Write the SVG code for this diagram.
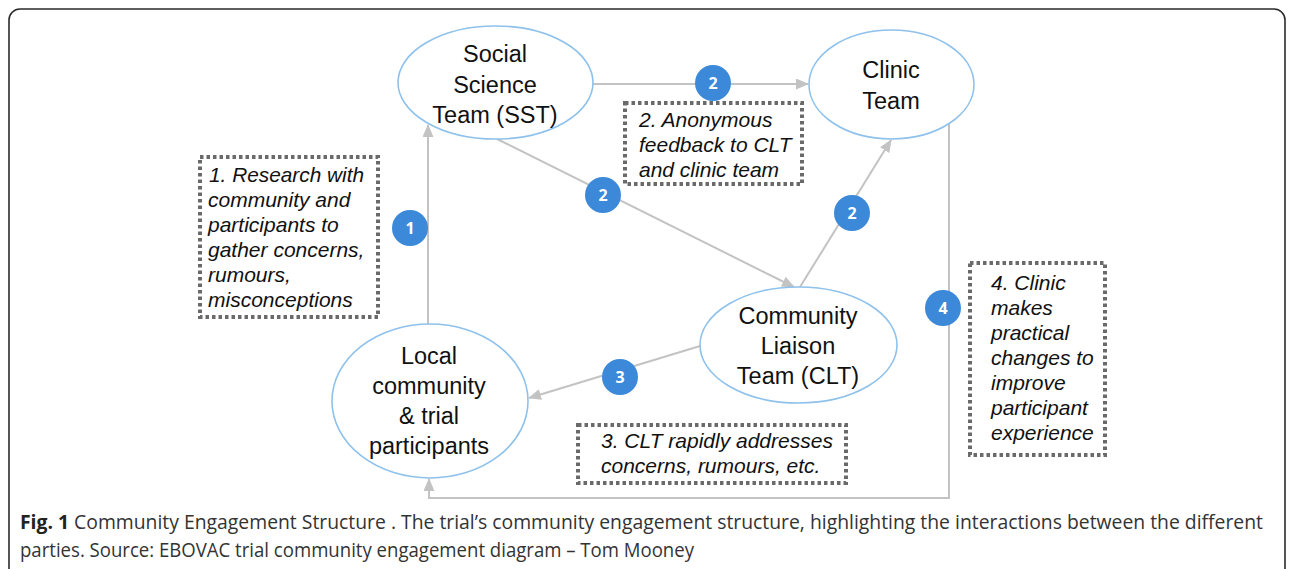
<svg xmlns="http://www.w3.org/2000/svg" width="1293" height="569" viewBox="0 0 1293 569">
  <style>
    .frame { fill: #ffffff; stroke: #2b2b2b; stroke-width: 1.6; }
    .node { fill: #ffffff; stroke: #8ec1ec; stroke-width: 1.6; }
    .label { font-family: "Liberation Sans", Arial, sans-serif; font-size: 23.5px; fill: #111111; text-anchor: middle; }
    .note { fill: none; stroke: #6a6a6a; stroke-width: 4; stroke-dasharray: 3.5 3; }
    .notetext { font-family: "Liberation Sans", Arial, sans-serif; font-size: 21px; font-style: italic; fill: #111111; }
    .edge { fill: none; stroke: #c3c3c3; stroke-width: 2; }
    .badge { fill: #3b89d8; }
    .badgetext { font-family: "Open Sans", "Liberation Sans", sans-serif; font-size: 16px; font-weight: bold; fill: #ffffff; text-anchor: middle; }
    .caption { font-family: "Open Sans", "Liberation Sans", sans-serif; font-size: 19.3px; fill: #333333; }
    .capbold { font-weight: bold; fill: #222222; }
  </style>
  <defs>
    <marker id="arrow" markerUnits="userSpaceOnUse" markerWidth="13" markerHeight="11" refX="12" refY="5.5" orient="auto">
      <path d="M0,0 L13,5.5 L0,11 z" fill="#c3c3c3"/>
    </marker>
  </defs>

  <!-- figure frame -->
  <rect class="frame" x="9" y="9" width="1276" height="590" rx="11" ry="11"/>

  <!-- connectors -->
  <g id="connectors">
    <path class="edge" d="M428,324 L428,125" marker-end="url(#arrow)"/>
    <path class="edge" d="M593,84 L808,84" marker-end="url(#arrow)"/>
    <path class="edge" d="M497,139 L794,287" marker-end="url(#arrow)"/>
    <path class="edge" d="M800,287 L891,140" marker-end="url(#arrow)"/>
    <path class="edge" d="M700,346 L529,398" marker-end="url(#arrow)"/>
    <path class="edge" d="M949,123 L949,498 L429,498 L429,479" marker-end="url(#arrow)"/>
  </g>

  <!-- step badges -->
  <g id="badges">
    <circle class="badge" cx="410" cy="228" r="18"/>
    <text class="badgetext" x="410" y="234">1</text>
    <circle class="badge" cx="713" cy="83" r="18"/>
    <text class="badgetext" x="713" y="89">2</text>
    <circle class="badge" cx="603" cy="195" r="18"/>
    <text class="badgetext" x="603" y="201">2</text>
    <circle class="badge" cx="852" cy="213" r="18"/>
    <text class="badgetext" x="852" y="219">2</text>
    <circle class="badge" cx="620" cy="377" r="18"/>
    <text class="badgetext" x="620" y="383">3</text>
    <circle class="badge" cx="943" cy="308" r="18"/>
    <text class="badgetext" x="943" y="314">4</text>
  </g>

  <!-- nodes -->
  <g id="sst">
    <ellipse class="node" cx="495.5" cy="82.5" rx="97.5" ry="56.5"/>
    <text class="label" x="495" y="62">Social</text>
    <text class="label" x="495" y="93">Science</text>
    <text class="label" x="495" y="123">Team (SST)</text>
  </g>
  <g id="clinic">
    <ellipse class="node" cx="891.5" cy="84.5" rx="82.5" ry="54.5"/>
    <text class="label" x="891" y="78">Clinic</text>
    <text class="label" x="891" y="109">Team</text>
  </g>
  <g id="clt">
    <ellipse class="node" cx="798.5" cy="345" rx="98.5" ry="58"/>
    <text class="label" x="798" y="324">Community</text>
    <text class="label" x="798" y="354">Liaison</text>
    <text class="label" x="798" y="384">Team (CLT)</text>
  </g>
  <g id="community">
    <ellipse class="node" cx="430" cy="401" rx="98" ry="77"/>
    <text class="label" x="429" y="364">Local</text>
    <text class="label" x="429" y="394">community</text>
    <text class="label" x="429" y="424">&amp; trial</text>
    <text class="label" x="429" y="454">participants</text>
  </g>

  <!-- annotation boxes -->
  <g id="note1">
    <rect class="note" x="200" y="157" width="178" height="160"/>
    <text class="notetext" x="209" y="182" textLength="155" lengthAdjust="spacingAndGlyphs">1. Research with</text>
    <text class="notetext" x="208" y="207">community and</text>
    <text class="notetext" x="208" y="232">participants to</text>
    <text class="notetext" x="208" y="257">gather concerns,</text>
    <text class="notetext" x="208" y="282">rumours,</text>
    <text class="notetext" x="208" y="307">misconceptions</text>
  </g>
  <g id="note2">
    <rect class="note" x="625" y="103" width="177" height="81"/>
    <text class="notetext" x="639" y="127">2. Anonymous</text>
    <text class="notetext" x="639" y="152">feedback to CLT</text>
    <text class="notetext" x="639" y="177">and clinic team</text>
  </g>
  <g id="note3">
    <rect class="note" x="578" y="425" width="268" height="58"/>
    <text class="notetext" x="601" y="448">3. CLT rapidly addresses</text>
    <text class="notetext" x="601" y="473">concerns, rumours, etc.</text>
  </g>
  <g id="note4">
    <rect class="note" x="970" y="263" width="135" height="192"/>
    <text class="notetext" x="991" y="290">4. Clinic</text>
    <text class="notetext" x="991" y="315">makes</text>
    <text class="notetext" x="991" y="340">practical</text>
    <text class="notetext" x="991" y="365">changes to</text>
    <text class="notetext" x="991" y="390">improve</text>
    <text class="notetext" x="991" y="415">participant</text>
    <text class="notetext" x="991" y="440">experience</text>
  </g>

  <!-- caption -->
  <g id="caption">
    <text class="caption" x="20" y="529" textLength="1243" lengthAdjust="spacingAndGlyphs"><tspan class="capbold">Fig. 1</tspan> Community Engagement Structure . The trial’s community engagement structure, highlighting the interactions between the different</text>
    <text class="caption" x="20" y="557" textLength="674" lengthAdjust="spacingAndGlyphs">parties. Source: EBOVAC trial community engagement diagram – Tom Mooney</text>
  </g>
</svg>
